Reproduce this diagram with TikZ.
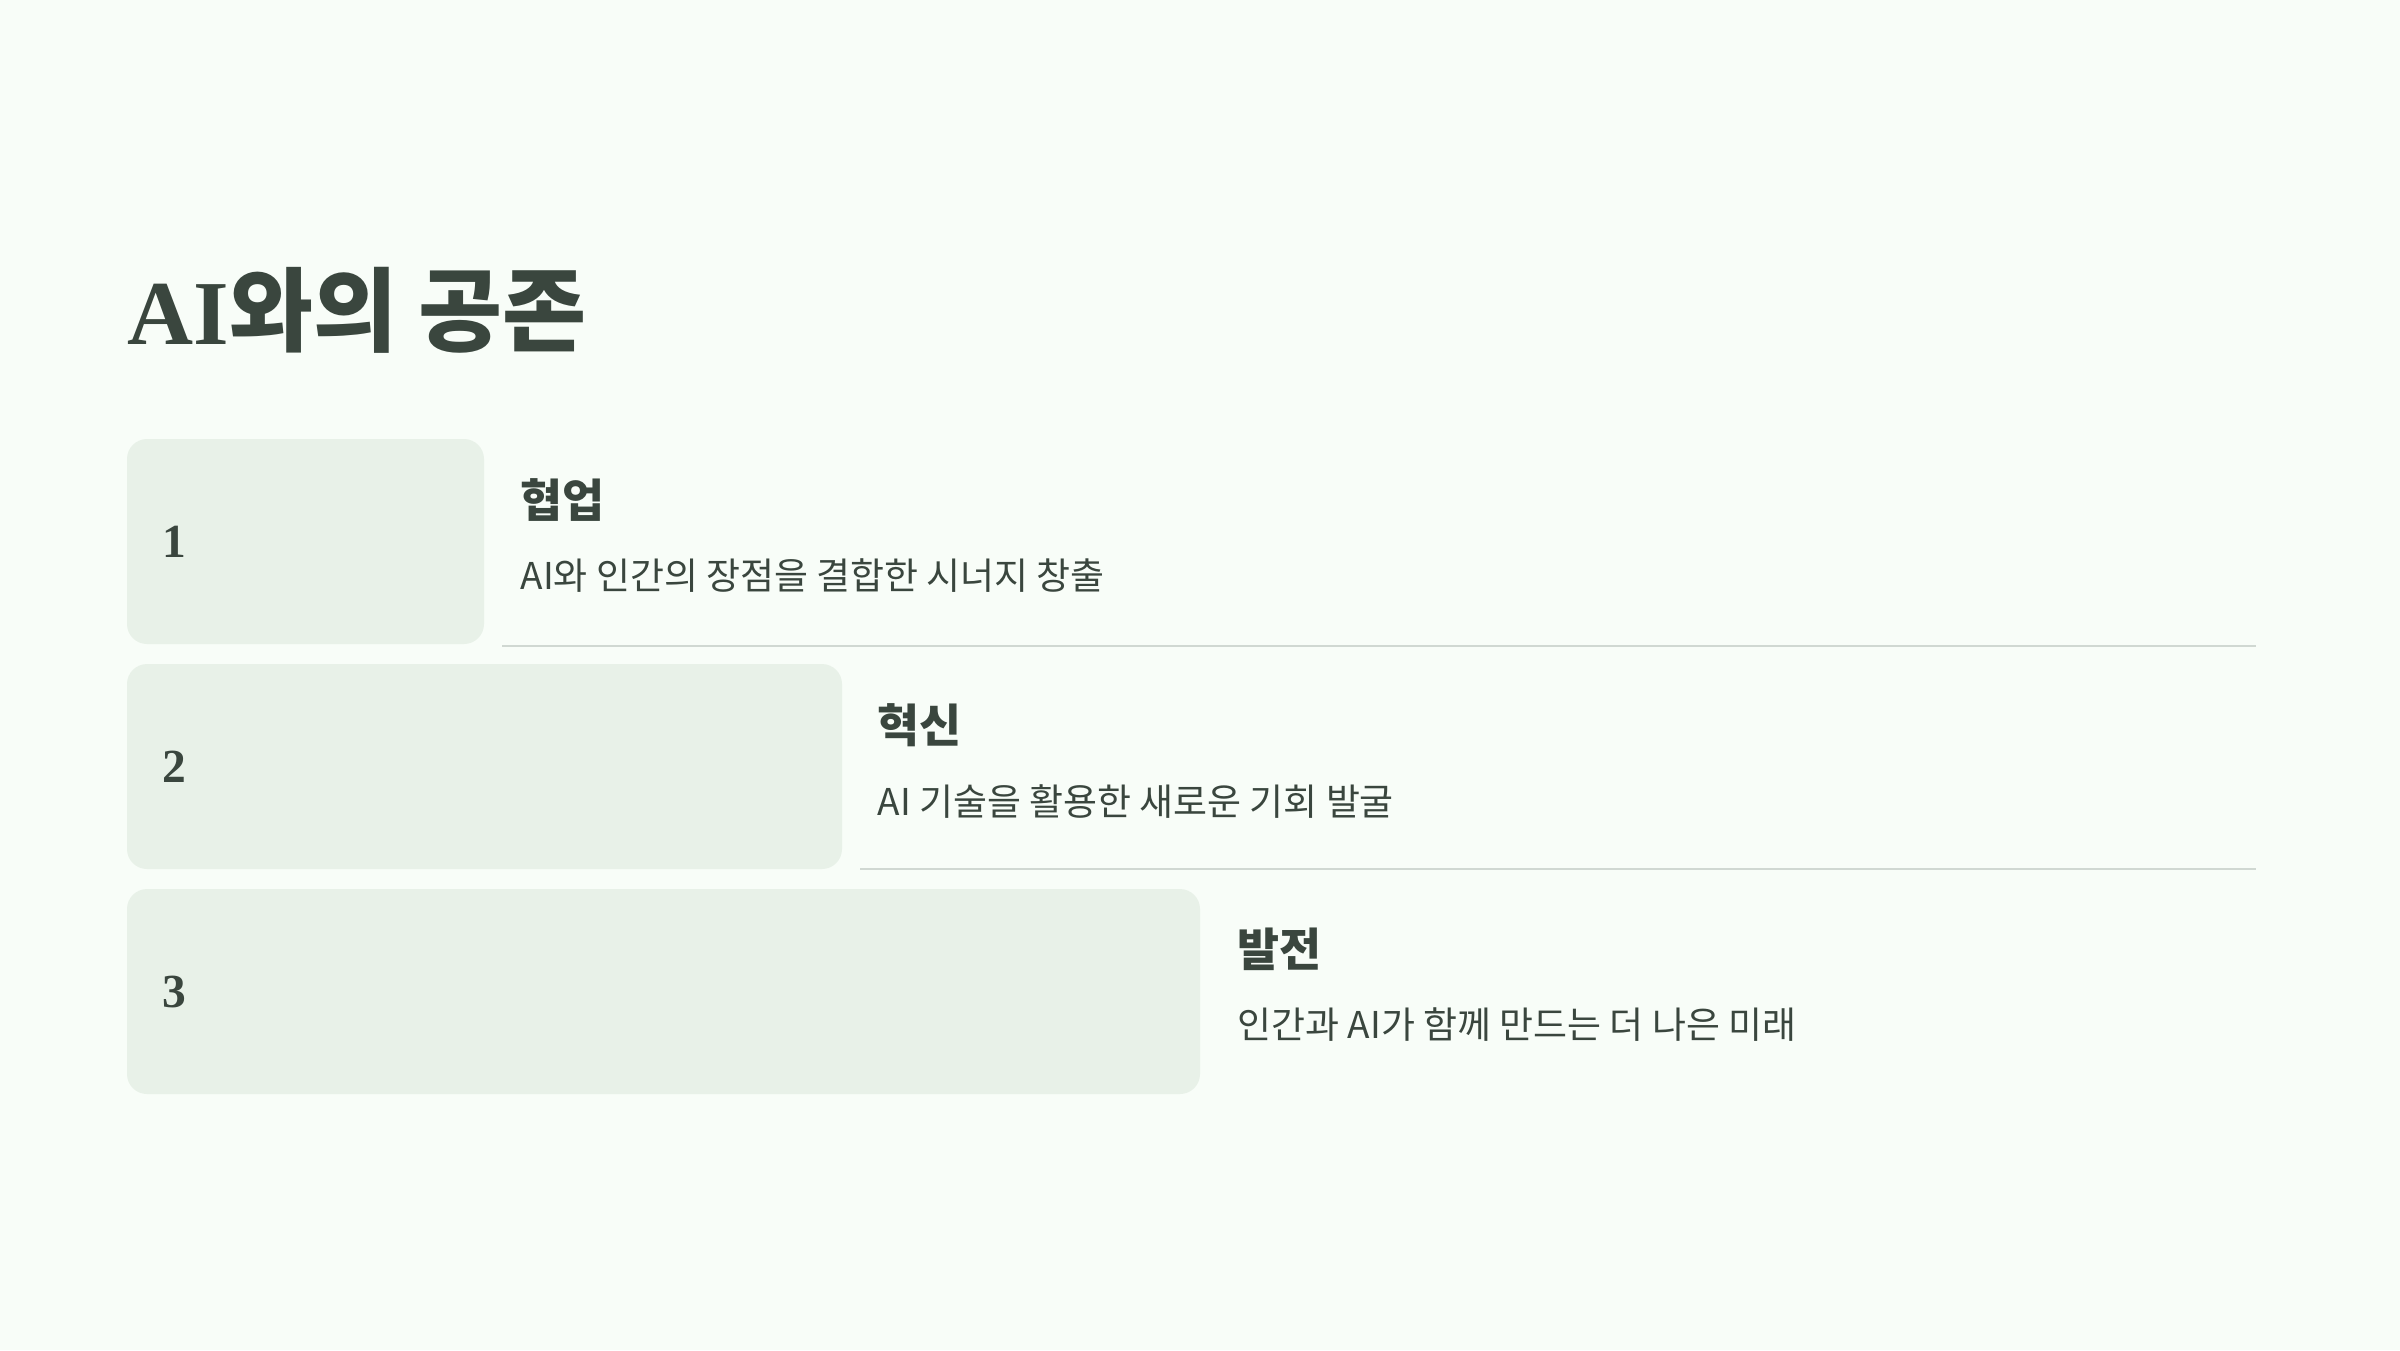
\documentclass[tikz,border=0pt]{standalone}
\usepackage{fontspec}
\setmainfont{Noto Sans CJK KR}
\newfontfamily\serifnum{Liberation Serif}
\usepackage{tikz}
\usetikzlibrary{positioning,calc}
\usepackage{color}
\definecolor{pagebg}{RGB}{248,253,248}
\definecolor{tilebg}{RGB}{232,241,232}
\definecolor{inkdark}{RGB}{58,70,62}
\definecolor{rulegray}{RGB}{208,216,210}

\begin{document}
\begin{tikzpicture}[x=0.01cm,y=-0.01cm,
  tile/.style={fill=tilebg,rounded corners=0.2cm},
  sep/.style={draw=rulegray,line width=0.55pt},
  num/.style={anchor=west,inner sep=0pt,text=inkdark,font=\serifnum\bfseries\fontsize{13.5}{15}\selectfont},
  head/.style={anchor=west,inner sep=0pt,text=inkdark,font=\bfseries\fontsize{13}{15}\selectfont},
  body/.style={anchor=west,inner sep=0pt,text=inkdark,font=\fontsize{10.5}{12}\selectfont}]
\fill[pagebg] (0,0) rectangle (2400,1350);
\node[anchor=base west,inner sep=0pt,text=inkdark,font=\fontsize{26}{32}\selectfont] (title) at (127,344)
  {{\serifnum\bfseries AI}\bfseries 와의 공존};
\fill[tile] (127,439) rectangle (484,644);
\fill[tile] (127,664) rectangle (842,869);
\fill[tile] (127,889) rectangle (1200,1094);
\node[num] (n1) at (162,542) {1};
\node[num] (n2) at (162,767) {2};
\node[num] (n3) at (162,992) {3};
\node[head] (h1) at (520,500) {협업};
\node[body] (b1) at (520,576) {AI와 인간의 장점을 결합한 시너지 창출};
\node[head] (h2) at (877,725) {혁신};
\node[body] (b2) at (877,801) {AI 기술을 활용한 새로운 기회 발굴};
\node[head] (h3) at (1237,949) {발전};
\node[body] (b3) at (1237,1025) {인간과 AI가 함께 만드는 더 나은 미래};
\coordinate (r1a) at (502,646);
\coordinate (r1b) at (2256,646);
\coordinate (r2a) at (860,869);
\coordinate (r2b) at (2256,869);
\draw[sep] (r1a) -- (r1b);
\draw[sep] (r2a) -- (r2b);
\end{tikzpicture}
\end{document}
